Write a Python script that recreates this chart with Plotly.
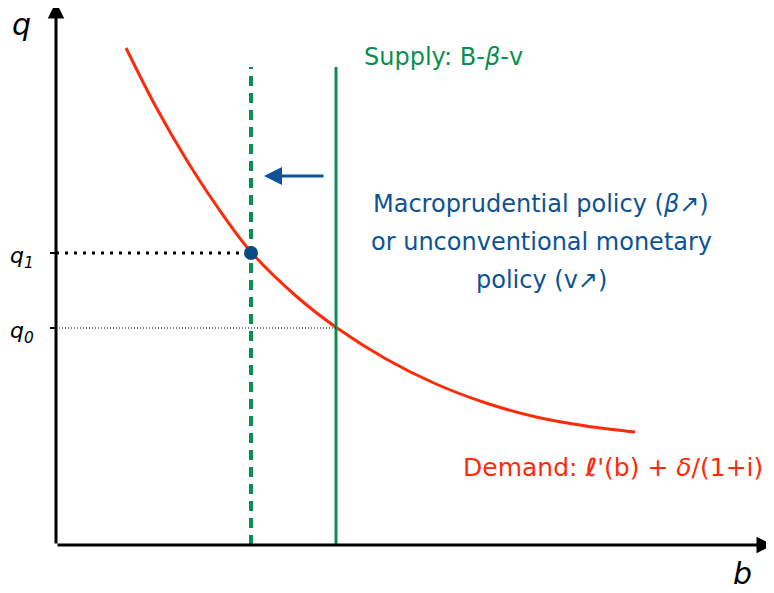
import plotly.graph_objects as go

demand_b = [70, 100, 130, 160, 195, 240, 281, 330, 380, 430, 480, 530, 579]
demand_q = [497, 438, 386, 340, 293, 249, 217, 186, 161, 142, 128, 119, 113]

b_supply0 = 280      # original supply position
b_supply1 = 195      # shifted supply position
q0 = 217
q1 = 292
supply_top = 478

red = "#ff2a0a"
green = "#0a8f50"
blue = "#0b5394"
font = "DejaVu Sans"

fig = go.Figure()

fig.add_trace(go.Scatter(x=demand_b, y=demand_q, mode="lines", line_shape="spline",
                         line=dict(color=red, width=3), hoverinfo="skip"))
fig.add_trace(go.Scatter(x=[b_supply0, b_supply0], y=[0, supply_top], mode="lines",
                         line=dict(color=green, width=3), hoverinfo="skip"))
fig.add_trace(go.Scatter(x=[b_supply1, b_supply1], y=[0, supply_top], mode="lines",
                         line=dict(color=green, width=4, dash="10px,7px"), hoverinfo="skip"))
fig.add_trace(go.Scatter(x=[0, b_supply1], y=[q1, q1], mode="lines",
                         line=dict(color="black", width=3, dash="3px,6px"), hoverinfo="skip"))
fig.add_trace(go.Scatter(x=[0, b_supply0], y=[q0, q0], mode="lines",
                         line=dict(color="black", width=1, dash="1px,2px"), hoverinfo="skip"))
fig.add_trace(go.Scatter(x=[b_supply1], y=[q1], mode="markers",
                         marker=dict(color="#084b82", size=14), hoverinfo="skip"))

# axes with arrowheads
fig.add_annotation(x=0, y=543, ax=0, ay=0, xref="x", yref="y", axref="x", ayref="y",
                   showarrow=True, arrowhead=2, arrowsize=1.1, arrowwidth=3, arrowcolor="black", text="")
fig.add_annotation(x=717, y=0, ax=0, ay=0, xref="x", yref="y", axref="x", ayref="y",
                   showarrow=True, arrowhead=2, arrowsize=1.1, arrowwidth=3, arrowcolor="black", text="")
# shift arrow
fig.add_annotation(x=208, y=369, ax=269, ay=369, xref="x", yref="y", axref="x", ayref="y",
                   showarrow=True, arrowhead=2, arrowsize=1.2, arrowwidth=3, arrowcolor=blue, text="")

# ticks on q axis
for qv in [q0, q1]:
    fig.add_shape(type="line", x0=-6, x1=0, y0=qv, y1=qv, line=dict(color="black", width=2))

fig.add_annotation(x=-35, y=521, text="<i>q</i>", showarrow=False,
                   font=dict(family=font, size=30, color="black"))
fig.add_annotation(x=686, y=-28, text="<i>b</i>", showarrow=False,
                   font=dict(family=font, size=30, color="black"))
fig.add_annotation(x=-34, y=q1 - 4, text="<i>q<sub>1</sub></i>", showarrow=False,
                   font=dict(family=font, size=22, color="black"))
fig.add_annotation(x=-34, y=q0 - 4, text="<i>q<sub>0</sub></i>", showarrow=False,
                   font=dict(family=font, size=22, color="black"))

fig.add_annotation(x=306, y=488, text="Supply: B-<i>β</i>-v", showarrow=False,
                   xanchor="left", font=dict(family=font, size=24, color=green))
blue_lines = ["Macroprudential policy (<i>β</i>↗)", "or unconventional monetary", "policy (v↗)"]
for i, line in enumerate(blue_lines):
    fig.add_annotation(x=485, y=341 - 38 * i, text=line, showarrow=False,
                       font=dict(family=font, size=24, color=blue))
fig.add_annotation(x=709, y=78, text="Demand: <b><i>ℓ</i></b>'(b) + <i>δ</i>/(1+i)",
                   showarrow=False, xanchor="right",
                   font=dict(family=font, size=25, color=red))

fig.update_layout(
    width=774, height=593,
    margin=dict(l=0, r=0, t=0, b=0),
    plot_bgcolor="white", paper_bgcolor="white",
    showlegend=False,
    xaxis=dict(range=[-48, 726], visible=False, fixedrange=True),
    yaxis=dict(range=[-56, 537], visible=False, fixedrange=True),
)

fig.write_html("out.html")
